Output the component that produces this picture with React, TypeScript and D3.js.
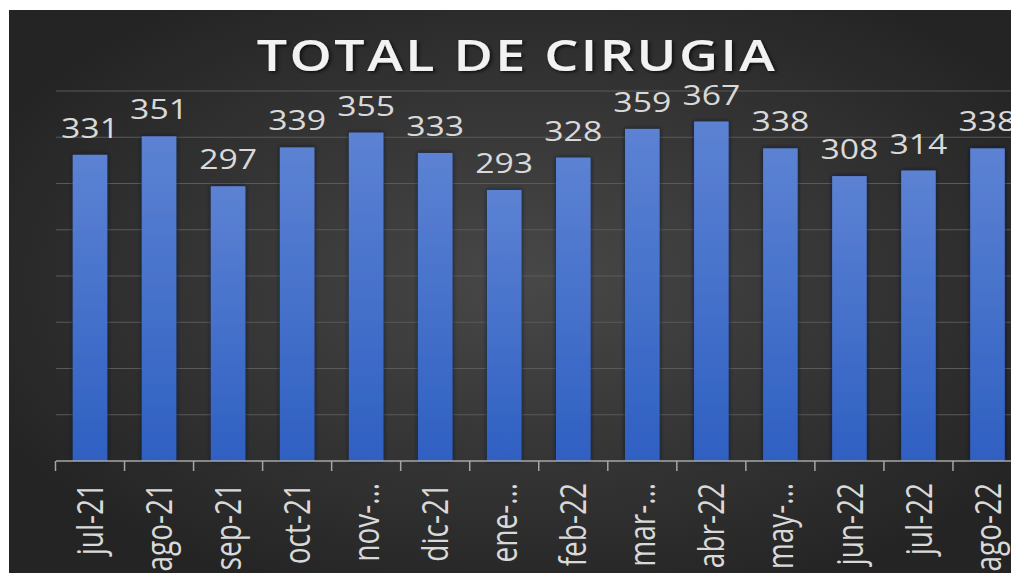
import React, { useEffect, useRef } from "react";
import * as d3 from "d3";

// month labels as shown under the axis (Excel truncated some of them)
const months = [
  "jul-21", "ago-21", "sep-21", "oct-21", "nov-…", "dic-21", "ene-…",
  "feb-22", "mar-…", "abr-22", "may-…", "jun-22", "jul-22", "ago-22",
];
const totals = [331, 351, 297, 339, 355, 333, 293, 328, 359, 367, 338, 308, 314, 338];
const yTicks = [0, 50, 100, 150, 200, 250, 300, 350, 400];
const title = "TOTAL DE CIRUGIA";

const W = 1011;
const H = 573;
const margin = { top: 91, left: 56, bottom: 112 };
const stretch = 1.25; // the picture is a bit wide, so texts get stretched

const App = () => {
  const ref = useRef<SVGSVGElement>(null);

  useEffect(() => {
    const svg = d3.select(ref.current);
    svg.selectAll("*").remove();

    const defs = svg.append("defs");
    const bg = defs
      .append("radialGradient")
      .attr("id", "bg")
      .attr("cx", "52%")
      .attr("cy", "48%")
      .attr("r", "60%");
    bg.append("stop").attr("offset", "0%").attr("stop-color", "#484848");
    bg.append("stop").attr("offset", "100%").attr("stop-color", "#242424");

    const barGrad = defs
      .append("linearGradient")
      .attr("id", "bar")
      .attr("x1", 0)
      .attr("y1", 0)
      .attr("x2", 0)
      .attr("y2", 1);
    barGrad.append("stop").attr("offset", "0%").attr("stop-color", "#5c82d3");
    barGrad.append("stop").attr("offset", "100%").attr("stop-color", "#2f60c2");

    const shadow = defs.append("filter").attr("id", "barShadow")
      .attr("x", "-30%").attr("width", "160%");
    shadow.append("feDropShadow")
      .attr("dx", 0).attr("dy", 0).attr("stdDeviation", 2)
      .attr("flood-color", "#0a1630").attr("flood-opacity", 0.9);

    const tshadow = defs.append("filter").attr("id", "titleShadow");
    tshadow.append("feDropShadow")
      .attr("dx", 1.5).attr("dy", 1.5).attr("stdDeviation", 1.5)
      .attr("flood-color", "#000").attr("flood-opacity", 0.7);

    // white frame + dark chart area
    svg.append("rect").attr("width", W).attr("height", H).attr("fill", "#fff");
    svg.append("rect")
      .attr("x", 9).attr("y", 10)
      .attr("width", W - 9).attr("height", H - 10)
      .attr("fill", "url(#bg)");

    const x = d3
      .scaleBand()
      .domain(months)
      .range([55.5, 1022])
      .padding(0);

    const y = d3
      .scaleLinear()
      .domain([0, 400])
      .range([H - margin.bottom, margin.top]);

    //gridlines
    svg.append("g")
      .selectAll("line")
      .data(yTicks.slice(1))
      .enter()
      .append("line")
      .attr("x1", margin.left)
      .attr("x2", W)
      .attr("y1", (d) => y(d))
      .attr("y2", (d) => y(d))
      .attr("stroke", "#5a5a5a")
      .attr("stroke-width", 1);

    //bars
    const bw = x.bandwidth() * 0.5;
    svg.append("g")
      .selectAll("rect")
      .data(totals)
      .enter()
      .append("rect")
      .attr("x", (d, i) => x(months[i])! + x.bandwidth() / 2 - bw / 2)
      .attr("y", (d) => y(d))
      .attr("width", bw)
      .attr("height", (d) => y(0) - y(d))
      .attr("fill", "url(#bar)")
      .attr("filter", "url(#barShadow)");

    //value labels
    svg.append("g")
      .selectAll("text")
      .data(totals)
      .enter()
      .append("text")
      .attr("transform", (d, i) =>
        `translate(${x(months[i])! + x.bandwidth() / 2},${y(d) - 17}) scale(${stretch},1)`)
      .attr("text-anchor", "middle")
      .attr("fill", "#d9d9d9")
      .style("font-family", "'Open Sans', sans-serif")
      .style("font-size", "27px")
      .text((d) => d);

    //x axis
    const xAxis = svg.append("g").attr("transform", `translate(0,${y(0)})`);
    xAxis.append("line")
      .attr("x1", margin.left).attr("x2", W)
      .attr("stroke", "#a6a6a6").attr("stroke-width", 1.5);
    xAxis.selectAll(".tick")
      .data(months)
      .enter()
      .append("line")
      .attr("x1", (d) => x(d)!)
      .attr("x2", (d) => x(d)!)
      .attr("y1", 0)
      .attr("y2", 10)
      .attr("stroke", "#a6a6a6")
      .attr("stroke-width", 1.5);
    xAxis.selectAll("text")
      .data(months)
      .enter()
      .append("text")
      .attr("transform", (d) =>
        `translate(${x(d)! + x.bandwidth() / 2},22) scale(1.3,1) rotate(-90)`)
      .attr("dy", "0.36em")
      .attr("text-anchor", "end")
      .attr("fill", "#d9d9d9")
      .style("font-family", "'Open Sans', sans-serif")
      .style("font-size", "28px")
      .text((d) => d);

    //title
    svg.append("text")
      .attr("transform", `translate(517,71) scale(${stretch},1)`)
      .attr("text-anchor", "middle")
      .attr("fill", "#f2f2f2")
      .attr("filter", "url(#titleShadow)")
      .style("font-family", "'Open Sans', sans-serif")
      .style("font-weight", "600")
      .style("font-size", "43px")
      .style("letter-spacing", "2px")
      .text(title);
  }, []);

  return (
    <svg
      ref={ref}
      width={W}
      height={H}
      style={{ position: "absolute", left: 0, top: 0 }}
    ></svg>
  );
};

export default App;
